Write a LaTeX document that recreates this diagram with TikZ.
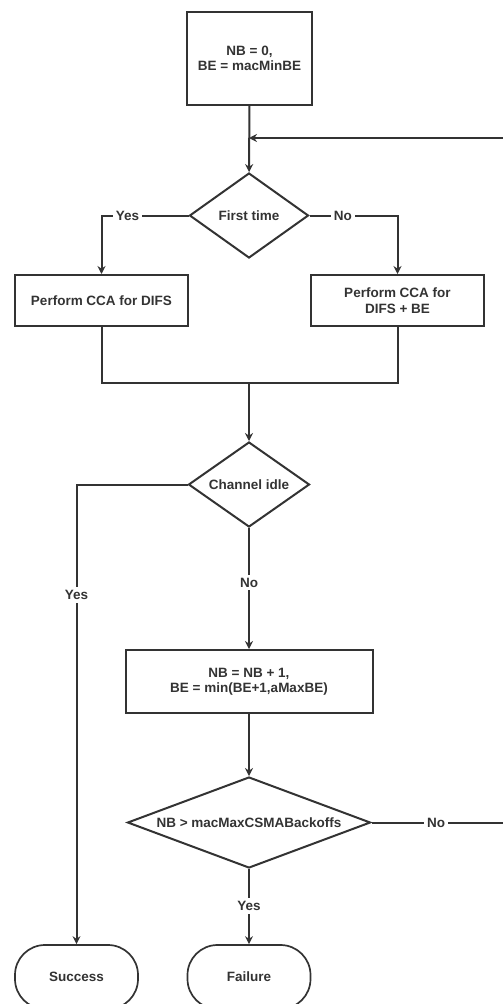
\documentclass[tikz,border=0pt]{standalone}
\usepackage{fontspec}
\setmainfont{Liberation Sans}
\usetikzlibrary{shapes.geometric,arrows.meta}

\definecolor{ink}{HTML}{333333}

\tikzset{
  txt/.style={font=\bfseries\fontsize{13.5}{15.5}\selectfont, text=ink, align=center},
  procbox/.style={txt, draw=ink, line width=2pt, rectangle, inner sep=0pt},
  decision/.style={txt, draw=ink, line width=2pt, diamond, inner sep=0pt},
  terminal/.style={txt, draw=ink, line width=1.7pt, rectangle, rounded corners=30pt, inner sep=0pt,
                   minimum width=123pt, minimum height=64pt},
  flow/.style={draw=ink, line width=2pt},
  arrowed/.style={flow, -{Stealth[length=8pt,width=8pt]}},
  lbl/.style={txt, fill=white, inner sep=3pt}
}

\begin{document}
\begin{tikzpicture}[x=1pt,y=-1pt]
\useasboundingbox (0,0) rectangle (503,1004);

% steps and decisions
\node[procbox, minimum width=125pt, minimum height=93pt] (init) at (249.5,58.5) {NB = 0,\\BE = macMinBE};
\node[decision, minimum width=119pt, minimum height=85pt, aspect=1.4] (first) at (249,215.5) {First time};
\node[procbox, minimum width=173pt, minimum height=51pt] (ccadifs) at (101.5,300.5) {Perform CCA for DIFS};
\node[procbox, minimum width=173pt, minimum height=51pt] (ccabe) at (397.5,300.5) {Perform CCA for\\DIFS + BE};
\node[decision, minimum width=121pt, minimum height=85pt, aspect=1.42] (idle) at (249,484.5) {Channel idle};
\node[procbox, minimum width=247pt, minimum height=63pt] (incr) at (249,681.5) {NB = NB + 1,\\BE = min(BE+1,aMaxBE)};
\node[decision, minimum width=243pt, minimum height=91pt, aspect=2.67] (limit) at (249,822.5) {NB > macMaxCSMABackoffs};
\node[terminal] (success) at (76.5,977) {Success};
\node[terminal] (failure) at (249,977) {Failure};

% junction points of the flow
\coordinate (merge) at (249,138);
\coordinate (join) at (249,383);
\coordinate (loopR) at (512,822.5);

% connectors
\draw[arrowed] (init) -- (first);
\draw[arrowed] (first.west) -| node[lbl, pos=0.35] {Yes} (ccadifs.north);
\draw[arrowed] (first.east) -| node[lbl, pos=0.19] {No} (ccabe.north);
\draw[flow] (ccadifs.south) |- (join);
\draw[flow] (ccabe.south) |- (join);
\draw[arrowed] (join) -- (idle.north);
\draw[arrowed] (idle.west) -| node[lbl, pos=0.62] {Yes} (success.north);
\draw[arrowed] (idle.south) -- node[lbl, pos=0.45] {No} (incr.north);
\draw[arrowed] (incr) -- (limit.north);
\draw[arrowed] (limit.south) -- node[lbl, pos=0.49] {Yes} (failure.north);
\draw[arrowed] (limit.east) -- node[lbl, pos=0.46] {No} (loopR) |- (merge);
\end{tikzpicture}
\end{document}
